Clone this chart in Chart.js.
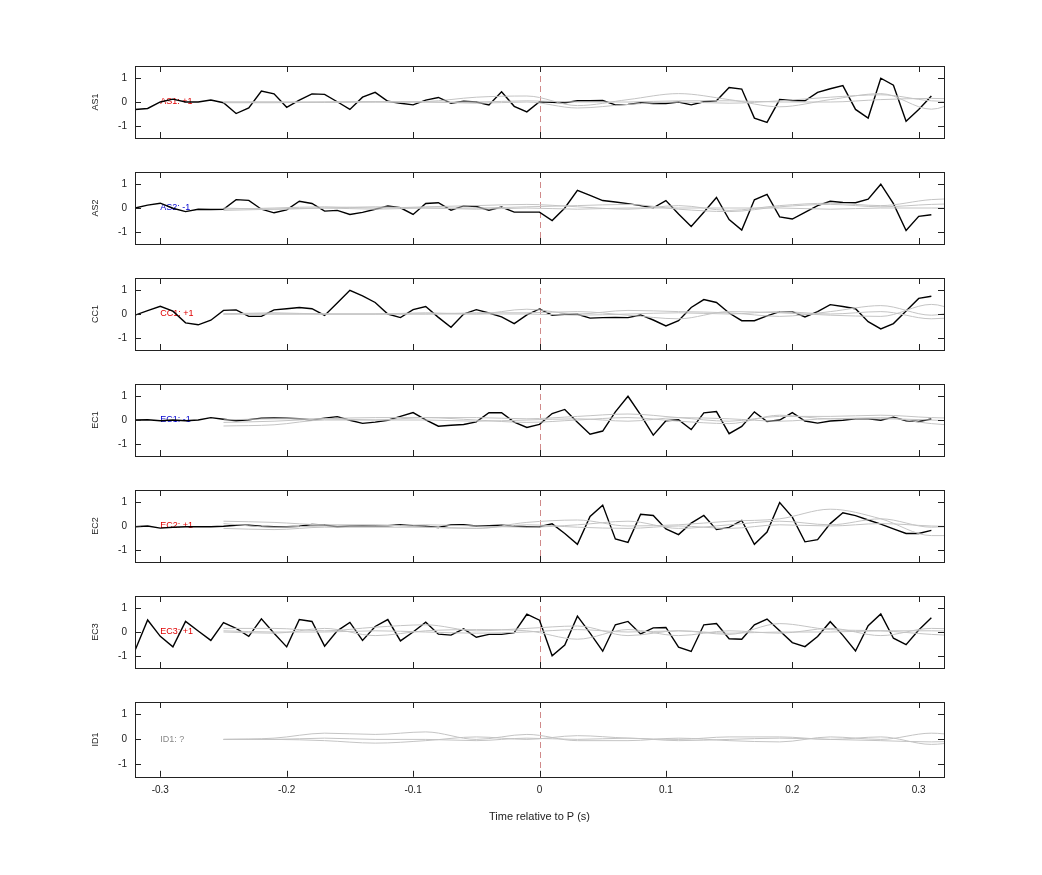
<!DOCTYPE html>
<html>
<head>
<meta charset="utf-8">
<script src="https://cdn.jsdelivr.net/npm/chart.js@4"></script>
<style>
  body { margin: 0; background: #fff; width: 1042px; height: 875px; position: relative; overflow: hidden; }
  .panel { position: absolute; left: 90px; }
</style>
</head>
<body>
<script>
// black trace times: -0.32 .. 0.31 step 0.01
const times = [];
for (let i = -32; i <= 31; i++) times.push(i / 100);

// grey reference curves sampled at these times
const greyTimes = [-0.25, -0.21, -0.17, -0.13, -0.09, -0.05, -0.01, 0.03, 0.07, 0.11, 0.15, 0.19, 0.23, 0.27, 0.31, 0.35];

const channels = ['AS1', 'AS2', 'CC1', 'EC1', 'EC2', 'EC3', 'ID1'];
const labels = ['AS1: +1', 'AS2: -1', 'CC1: +1', 'EC1: -1', 'EC2: +1', 'EC3: +1', 'ID1: ?'];
const labelColors = ['#e00000', '#0000d0', '#e00000', '#0000d0', '#e00000', '#e00000', '#888888'];

const as1 = [-0.31, -0.27, 0.0, 0.12, 0, 0, 0.08, -0.03, -0.48, -0.25, 0.46, 0.34, -0.22, 0.08, 0.34, 0.32,
  0.01, -0.31, 0.2, 0.4, 0.03, -0.05, -0.12, 0.08, 0.19, -0.05, 0.03, 0, -0.12, 0.43, -0.18, -0.41,
  0.01, -0.01, -0.03, 0.05, 0.05, 0.06, -0.12, -0.1, -0.03, -0.06, -0.06, 0, -0.12, 0.01, 0.05, 0.6,
  0.54, -0.67, -0.85, 0.1, 0.06, 0.05, 0.4, 0.55, 0.68, -0.31, -0.67, 0.99, 0.7, -0.8, -0.31, 0.25];
const as2 = [0, 0.12, 0.2, -0.01, -0.15, -0.05, -0.06, -0.05, 0.35, 0.32, -0.05, -0.2, -0.08, 0.28, 0.19, -0.13,
  -0.1, -0.27, -0.18, -0.05, 0.08, 0.01, -0.27, 0.19, 0.22, -0.09, 0.09, 0.06, -0.09, 0.04, -0.17, -0.17,
  -0.17, -0.52, 0, 0.74, 0.53, 0.31, 0.25, 0.18, 0.1, 0.01, 0.31, -0.25, -0.77, -0.18, 0.44, -0.48,
  -0.92, 0.34, 0.57, -0.37, -0.46, -0.18, 0.1, 0.28, 0.23, 0.22, 0.37, 0.99, 0.18, -0.94, -0.35, -0.28];
const cc1 = [-0.05, 0.14, 0.32, 0.12, -0.37, -0.45, -0.26, 0.15, 0.17, -0.1, -0.1, 0.17, 0.22, 0.27, 0.22, -0.06,
  0.46, 0.99, 0.76, 0.48, 0, -0.15, 0.18, 0.31, -0.14, -0.55, 0, 0.18, 0.04, -0.12, -0.4, -0.04,
  0.21, -0.05, -0.01, -0.01, -0.17, -0.15, -0.14, -0.15, -0.04, -0.25, -0.5, -0.28, 0.27, 0.6, 0.48, 0.04,
  -0.28, -0.28, -0.08, 0.1, 0.1, -0.12, 0.1, 0.39, 0.31, 0.22, -0.32, -0.62, -0.4, 0.12, 0.65, 0.74];
const ec1 = [0, 0.01, -0.03, 0, -0.03, 0, 0.1, 0.03, -0.03, 0.01, 0.08, 0.09, 0.08, 0.05, 0, 0.08,
  0.14, -0.01, -0.14, -0.09, -0.01, 0.15, 0.31, 0.01, -0.26, -0.22, -0.19, -0.08, 0.3, 0.3, -0.09, -0.31,
  -0.18, 0.27, 0.44, -0.09, -0.59, -0.46, 0.34, 0.99, 0.21, -0.63, -0.03, 0.01, -0.4, 0.3, 0.35, -0.57,
  -0.27, 0.34, -0.06, 0, 0.31, -0.04, -0.13, -0.04, -0.01, 0.05, 0.05, -0.01, 0.12, -0.03, -0.06, 0.04];
const ec2 = [-0.03, 0, -0.09, -0.05, -0.03, -0.03, -0.03, -0.01, 0.03, 0.03, -0.01, -0.03, -0.03, -0.01, 0.06, 0.04,
  -0.03, 0, 0.01, 0, 0.01, 0.05, 0.01, -0.01, -0.06, 0.05, 0.05, 0, 0.01, 0.03, 0, -0.03,
  -0.03, 0.09, -0.31, -0.76, 0.4, 0.87, -0.54, -0.68, 0.49, 0.44, -0.12, -0.36, 0.12, 0.44, -0.15, -0.06,
  0.23, -0.76, -0.25, 0.98, 0.37, -0.66, -0.57, 0.1, 0.55, 0.43, 0.25, 0.08, -0.12, -0.31, -0.31, -0.18];
const ec3 = [-0.77, 0.5, -0.18, -0.62, 0.44, 0.04, -0.35, 0.39, 0.15, -0.18, 0.55, -0.05, -0.62, 0.52, 0.44, -0.59,
  0.05, 0.4, -0.35, 0.23, 0.52, -0.37, 0, 0.41, -0.09, -0.13, 0.13, -0.22, -0.1, -0.1, -0.03, 0.74,
  0.49, -0.99, -0.54, 0.66, -0.05, -0.8, 0.3, 0.44, -0.08, 0.17, 0.19, -0.63, -0.81, 0.3, 0.35, -0.28,
  -0.3, 0.3, 0.54, 0.05, -0.44, -0.61, -0.19, 0.43, -0.14, -0.79, 0.26, 0.75, -0.26, -0.53, 0.08, 0.59];
const blackSeries = [as1, as2, cc1, ec1, ec2, ec3, null];

const greySeries = [
  [[0, 0, 0, 0, 0.02, 0.2, 0.25, -0.15, 0.1, 0.35, 0.1, -0.2, 0.1, 0.35, -0.3, 0.7],
   [0, 0, -0.02, 0, 0, -0.05, 0, -0.25, -0.1, 0, -0.05, 0.05, 0.2, 0.3, 0.05, 0],
   [-0.03, -0.03, 0, 0.02, 0, 0, 0.05, 0, 0, 0.05, 0.05, 0, 0, 0.1, 0.15, 0.1]],
  [[-0.05, 0, 0.05, 0, 0.05, 0.1, 0.15, 0.05, -0.05, 0.1, -0.1, 0.1, 0.2, 0.1, 0.35, 0.4],
   [0, -0.05, 0, 0.05, 0, 0, 0.05, 0.1, 0.15, -0.05, -0.15, 0.05, 0.15, 0.05, 0.15, 0.2],
   [-0.1, -0.05, 0, -0.05, 0, -0.05, 0, -0.05, 0, 0, 0, 0, -0.05, 0, 0, 0]],
  [[0, 0, 0, 0, 0, 0, 0.2, 0, 0.15, 0.1, 0.05, -0.1, 0.1, 0.35, -0.05, 0.5],
   [0, 0, 0, 0, 0, 0.05, 0.05, 0.1, -0.05, -0.2, 0.1, 0.05, -0.05, -0.1, 0.4, -0.4],
   [0, 0.05, 0, 0, 0.05, 0, 0, -0.05, 0, 0.05, 0, 0.1, 0, 0.1, -0.2, 0]],
  [[-0.25, -0.2, 0, 0, 0.1, 0.1, 0.05, 0.15, 0.25, 0.1, -0.05, 0.15, 0.15, 0.2, 0.1, 0.05],
   [-0.1, -0.05, 0.05, 0.1, 0.1, 0, -0.1, 0, 0.1, -0.05, -0.15, 0.2, 0.05, 0.1, -0.15, -0.3],
   [0, 0.05, 0.05, 0, 0, -0.05, 0, 0.05, -0.05, 0.1, 0.05, -0.05, 0.05, 0.05, 0, -0.1]],
  [[0.2, 0.15, 0.05, 0.05, -0.05, -0.1, 0.15, 0.25, 0, 0.05, 0.2, 0.3, 0.7, 0.3, -0.4, -0.4],
   [0.1, -0.05, 0, 0, 0.05, 0, -0.05, 0.05, 0.2, -0.1, 0.05, 0.2, 0.05, 0.3, -0.05, 0.1],
   [-0.1, -0.15, -0.05, -0.05, -0.05, -0.1, 0.05, -0.05, -0.1, 0, -0.1, 0.05, 0, 0.1, 0, -0.05]],
  [[0.15, 0.15, 0.05, 0.2, 0.3, 0.05, 0.15, 0.25, -0.15, 0.05, -0.1, 0.35, 0.1, 0.05, -0.1, -0.2],
   [0, -0.05, 0.15, -0.15, 0.05, 0.1, 0.05, -0.3, 0.1, -0.15, 0.05, -0.05, 0.15, -0.15, 0.15, 0.1],
   [0.05, 0, 0, 0.05, 0, -0.05, 0, 0.1, 0, 0.05, -0.05, 0, 0, 0.05, 0.05, 0]],
  [[0, 0.05, 0.25, 0.2, 0.3, 0, 0.2, -0.05, -0.05, 0.05, -0.05, -0.1, 0.1, 0, 0.25, 0],
   [0, 0, -0.05, -0.15, -0.05, 0.1, 0, 0.15, 0.05, 0, 0.1, 0.1, 0, 0.1, -0.2, 0.1],
   [0, 0, 0.05, 0, 0, -0.05, 0.05, 0, 0.05, -0.05, 0, 0.05, 0, -0.05, -0.1, -0.05]]
];

const xTicks = [-0.3, -0.2, -0.1, 0, 0.1, 0.2, 0.3];
const yTicks = [-1, 0, 1];

const framePlugin = {
  id: 'frame',
  beforeDatasetsDraw(chart, args, opts) {
    const { ctx, chartArea: a, scales: { x, y } } = chart;
    ctx.save();
    // zero line
    ctx.strokeStyle = '#d08a8a';
    ctx.lineWidth = 1;
    ctx.setLineDash([6, 4]);
    const x0 = Math.round(x.getPixelForValue(0)) + 0.5;
    ctx.beginPath(); ctx.moveTo(x0, a.top); ctx.lineTo(x0, a.bottom); ctx.stroke();
    ctx.setLineDash([]);
    // channel label
    ctx.fillStyle = opts.color;
    ctx.font = '9px "Liberation Sans", Arial, sans-serif';
    ctx.textBaseline = 'middle';
    ctx.fillText(opts.text, x.getPixelForValue(-0.3), y.getPixelForValue(0));
    ctx.restore();
  },
  afterDraw(chart) {
    const { ctx, chartArea: a, scales: { x, y } } = chart;
    ctx.save();
    ctx.strokeStyle = '#222';
    ctx.lineWidth = 1;
    ctx.strokeRect(Math.round(a.left) + 0.5, Math.round(a.top) + 0.5, Math.round(a.width), Math.round(a.height));
    ctx.beginPath();
    xTicks.forEach(t => {
      const px = Math.round(x.getPixelForValue(t)) + 0.5;
      ctx.moveTo(px, a.top); ctx.lineTo(px, a.top + 6);
      ctx.moveTo(px, a.bottom); ctx.lineTo(px, a.bottom - 6);
    });
    yTicks.forEach(t => {
      const py = Math.round(y.getPixelForValue(t)) + 0.5;
      ctx.moveTo(a.left, py); ctx.lineTo(a.left + 6, py);
      ctx.moveTo(a.right, py); ctx.lineTo(a.right - 6, py);
    });
    ctx.stroke();
    ctx.restore();
  }
};

const panelTops = [66, 172, 278, 384, 490, 596, 702];
const plotHeight = 76;

channels.forEach((name, i) => {
  const last = i === channels.length - 1;
  const canvas = document.createElement('canvas');
  canvas.className = 'panel';
  canvas.width = 864;
  canvas.height = last ? 140 : 100;
  document.body.appendChild(canvas);

  const datasets = greySeries[i].map(g => ({
    data: greyTimes.map((t, k) => ({ x: t, y: g[k] })),
    borderColor: '#c4c4c4', borderWidth: 1, pointRadius: 0, tension: 0.4, cubicInterpolationMode: 'monotone'
  }));
  if (blackSeries[i]) {
    datasets.push({
      data: times.map((t, k) => ({ x: t, y: blackSeries[i][k] })),
      borderColor: '#000', borderWidth: 1.4, pointRadius: 0, tension: 0
    });
  }

  const chart = new Chart(canvas, {
    type: 'line',
    data: { datasets },
    options: {
      responsive: false,
      animation: false,
      clip: true,
      layout: { padding: { top: 0, right: 10, bottom: 0, left: 0 } },
      plugins: {
        legend: { display: false },
        tooltip: { enabled: false },
        frame: { text: labels[i], color: labelColors[i] }
      },
      scales: {
        x: {
          type: 'linear', min: -0.32, max: 0.32,
          display: last,
          afterBuildTicks: s => { s.ticks = xTicks.map(v => ({ value: v })); },
          grid: { display: false, drawTicks: false },
          border: { display: false },
          ticks: { color: '#222', font: { size: 10, family: 'Liberation Sans' }, padding: 7, callback: v => String(v) },
          title: { display: true, text: 'Time relative to P (s)', color: '#222', font: { size: 11, family: 'Liberation Sans' }, padding: { top: 8 } }
        },
        y: {
          min: -1.5, max: 1.5,
          afterFit: s => { s.width = 45; },
          afterBuildTicks: s => { s.ticks = yTicks.map(v => ({ value: v })); },
          grid: { display: false, drawTicks: false },
          border: { display: false },
          ticks: { color: '#222', font: { size: 10, family: 'Liberation Sans' }, padding: 8 },
          title: { display: true, text: name, color: '#222', font: { size: 9, family: 'Liberation Sans' }, padding: 0 }
        }
      }
    },
    plugins: [framePlugin]
  });

  // the layout keeps some auto padding; resize so the plot box is exactly plotHeight
  for (let k = 0; k < 2; k++) {
    const extra = chart.height - (chart.chartArea.bottom - chart.chartArea.top);
    chart.resize(864, Math.round(plotHeight + extra));
  }
  canvas.style.top = (panelTops[i] - Math.round(chart.chartArea.top)) + 'px';
});
</script>
</body>
</html>
